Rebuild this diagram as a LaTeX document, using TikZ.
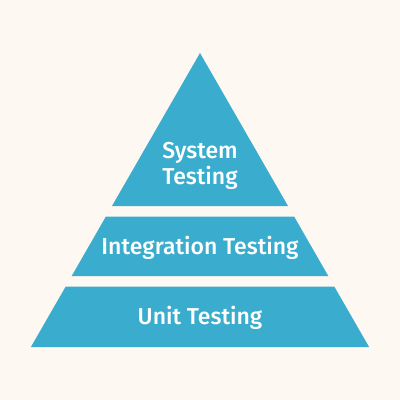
\documentclass[tikz,border=0pt]{standalone}
\usepackage{fontspec}
\setmainfont{Fira Sans}[UprightFont=* Medium]
\definecolor{bgc}{HTML}{FDF8F2}
\definecolor{pyr}{HTML}{3AADCF}
\begin{document}
\begin{tikzpicture}[x=1pt,y=-1pt,
  band/.style={fill=pyr,draw=none},
  lab/.style={text=white,font=\fontsize{23}{26}\selectfont,align=center,inner sep=0pt,anchor=base}]
\fill[bgc] (0,0) rectangle (400,400);
\useasboundingbox (0,0) rectangle (400,400);
\path[band] (200,53) -- (288,206) -- (112,206) -- cycle;
\path[band] (105.8,216.7) -- (294.2,216.7) -- (328.3,276) -- (71.7,276) -- cycle;
\path[band] (65.6,286.7) -- (334.4,286.7) -- (369.1,347) -- (30.9,347) -- cycle;
\node[lab] (sys) at (200,184) {System\\Testing};
\node[lab] (int) at (200,254.3) {Integration Testing};
\node[lab] (unit) at (200,324.3) {Unit Testing};
\end{tikzpicture}
\end{document}
